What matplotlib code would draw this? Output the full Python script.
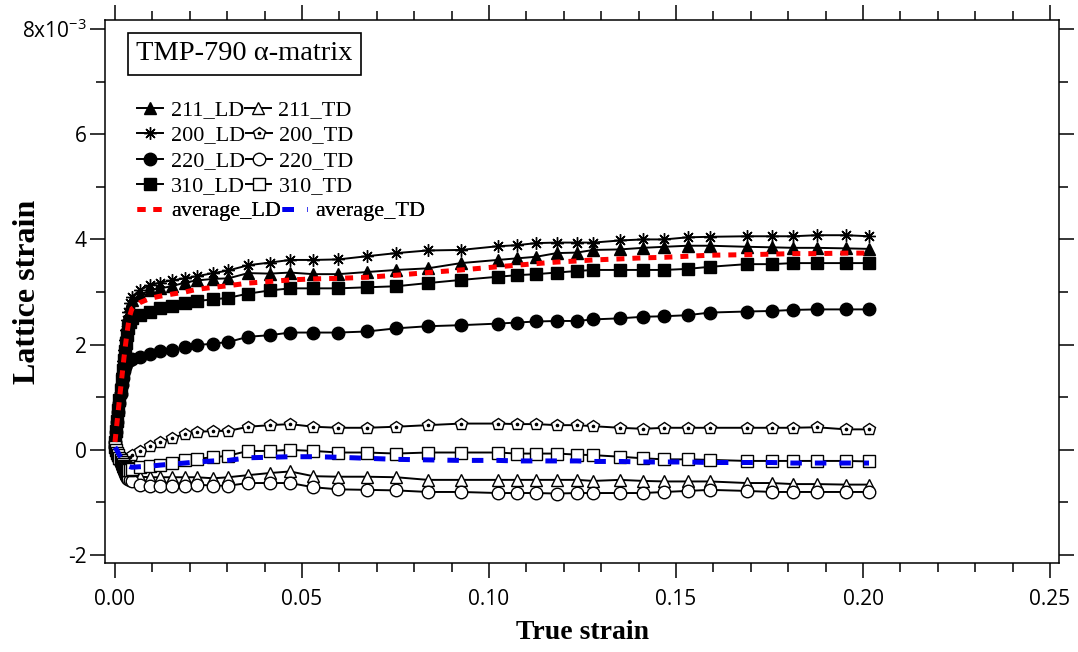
import matplotlib
matplotlib.use('Agg')
import matplotlib.pyplot as plt
from matplotlib.ticker import MultipleLocator, FixedLocator, FixedFormatter

# true strain (shared by all series)
eps = [0.0000, 0.0003, 0.0006, 0.0009, 0.0012, 0.0015, 0.0018, 0.0021, 0.0024, 0.0027,
       0.0030, 0.0033, 0.0036, 0.0040,
       0.0045, 0.0067, 0.0094, 0.0120, 0.0152, 0.0187, 0.0218, 0.0263, 0.0303, 0.0356,
       0.0414, 0.0468, 0.0530, 0.0597, 0.0673, 0.0752,
       0.0836, 0.0925, 0.1023, 0.1074, 0.1126, 0.1181, 0.1235, 0.1279, 0.1350, 0.1412,
       0.1469, 0.1531, 0.1591, 0.1689, 0.1756, 0.1813, 0.1876, 0.1954, 0.2016]

# lattice strain, x10^-3
ld_211 = [0.15, 0.36, 0.57, 0.78, 0.99, 1.20, 1.41, 1.62, 1.83, 2.03, 2.22, 2.40, 2.57, 2.74,
          2.85, 2.94, 3.04, 3.07, 3.11, 3.18, 3.22, 3.25, 3.26, 3.36, 3.35, 3.37, 3.34, 3.34, 3.38, 3.42,
          3.45, 3.55, 3.61, 3.64, 3.67, 3.74, 3.75, 3.80, 3.81, 3.84, 3.86, 3.88, 3.88, 3.86, 3.85,
          3.84, 3.84, 3.83, 3.82]
ld_200 = [0.15, 0.37, 0.59, 0.81, 1.03, 1.25, 1.47, 1.68, 1.89, 2.09, 2.28, 2.46, 2.63, 2.79,
          2.91, 3.04, 3.13, 3.18, 3.22, 3.26, 3.30, 3.36, 3.41, 3.51, 3.56, 3.61, 3.61, 3.62, 3.68, 3.74,
          3.79, 3.80, 3.87, 3.89, 3.93, 3.94, 3.94, 3.94, 3.98, 4.00, 4.00, 4.04, 4.05, 4.06, 4.06,
          4.06, 4.08, 4.08, 4.06]
ld_220 = [0.15, 0.34, 0.53, 0.72, 0.90, 1.07, 1.23, 1.37, 1.49, 1.58, 1.64, 1.68, 1.70, 1.71,
          1.72, 1.77, 1.83, 1.87, 1.90, 1.95, 1.99, 2.02, 2.05, 2.15, 2.18, 2.23, 2.23, 2.23, 2.25, 2.31,
          2.35, 2.37, 2.40, 2.42, 2.44, 2.45, 2.45, 2.48, 2.50, 2.53, 2.54, 2.56, 2.61, 2.63, 2.64,
          2.66, 2.67, 2.67, 2.67]
ld_310 = [0.15, 0.35, 0.55, 0.75, 0.95, 1.14, 1.33, 1.52, 1.70, 1.87, 2.03, 2.18, 2.31, 2.43,
          2.50, 2.56, 2.63, 2.69, 2.73, 2.79, 2.83, 2.86, 2.89, 2.97, 3.03, 3.07, 3.07, 3.07, 3.09, 3.11,
          3.17, 3.23, 3.29, 3.32, 3.34, 3.37, 3.40, 3.42, 3.42, 3.42, 3.42, 3.44, 3.48, 3.53, 3.53,
          3.55, 3.55, 3.55, 3.55]
avg_ld = [0.15, 0.36, 0.56, 0.76, 0.97, 1.16, 1.36, 1.55, 1.75, 1.93, 2.10, 2.26, 2.41, 2.56,
          2.68, 2.80, 2.88, 2.92, 2.96, 3.00, 3.05, 3.09, 3.12, 3.17, 3.20, 3.23, 3.25, 3.26, 3.28, 3.32,
          3.37, 3.42, 3.48, 3.51, 3.54, 3.57, 3.59, 3.61, 3.63, 3.65, 3.66, 3.68, 3.70, 3.71, 3.72,
          3.73, 3.73, 3.74, 3.74]

td_211 = [0.05, 0.00, -0.05, -0.10, -0.15, -0.20, -0.25, -0.30, -0.35, -0.39, -0.43, -0.46, -0.49, -0.51,
          -0.52, -0.51, -0.52, -0.52, -0.52, -0.52, -0.52, -0.54, -0.52, -0.48, -0.44, -0.41, -0.50, -0.51,
          -0.51, -0.52,
          -0.57, -0.57, -0.57, -0.57, -0.57, -0.57, -0.57, -0.59, -0.57, -0.59, -0.60, -0.60, -0.60, -0.63,
          -0.63, -0.65, -0.65, -0.66, -0.66]
td_200 = [0.05, 0.00, -0.05, -0.10, -0.14, -0.18, -0.21, -0.23, -0.24, -0.24, -0.23, -0.21, -0.18, -0.14,
          -0.10, -0.02, 0.07, 0.15, 0.23, 0.30, 0.34, 0.36, 0.36, 0.44, 0.47, 0.49, 0.44, 0.42, 0.42, 0.44,
          0.47, 0.50, 0.50, 0.49, 0.49, 0.47, 0.47, 0.45, 0.42, 0.40, 0.42, 0.42, 0.42, 0.42, 0.42,
          0.42, 0.43, 0.39, 0.39]
td_220 = [0.05, -0.01, -0.07, -0.13, -0.19, -0.25, -0.31, -0.36, -0.41, -0.46, -0.50, -0.53, -0.56, -0.58,
          -0.60, -0.66, -0.68, -0.68, -0.68, -0.68, -0.66, -0.68, -0.68, -0.63, -0.63, -0.63, -0.71, -0.75,
          -0.76, -0.77,
          -0.80, -0.80, -0.82, -0.82, -0.82, -0.83, -0.82, -0.82, -0.82, -0.82, -0.80, -0.78, -0.76, -0.78,
          -0.80, -0.80, -0.80, -0.80, -0.80]
td_310 = [0.05, 0.00, -0.05, -0.10, -0.15, -0.19, -0.23, -0.27, -0.30, -0.33, -0.35, -0.37, -0.38, -0.38,
          -0.37, -0.33, -0.31, -0.29, -0.24, -0.19, -0.17, -0.14, -0.11, -0.02, -0.02, 0.00, -0.02, -0.05,
          -0.05, -0.07,
          -0.05, -0.05, -0.05, -0.07, -0.07, -0.07, -0.09, -0.10, -0.13, -0.16, -0.18, -0.18, -0.19, -0.21,
          -0.21, -0.21, -0.21, -0.21, -0.22]
avg_td = [0.05, 0.02, -0.02, -0.06, -0.10, -0.13, -0.16, -0.19, -0.22, -0.25, -0.27, -0.29, -0.31, -0.32,
          -0.33, -0.32, -0.31, -0.29, -0.27, -0.25, -0.23, -0.21, -0.20, -0.15, -0.14, -0.13, -0.13, -0.14,
          -0.16, -0.18,
          -0.19, -0.20, -0.20, -0.21, -0.21, -0.21, -0.21, -0.22, -0.22, -0.23, -0.23, -0.23, -0.24, -0.24,
          -0.24, -0.25, -0.25, -0.25, -0.25]

y_ticks = [-2, 0, 2, 4, 6, 8]
y_ticklabels = ['-2', '0', '2', '4', '6', '8x10$^{-3}$']
x_ticks = [0.00, 0.05, 0.10, 0.15, 0.20, 0.25]

serif = 'Liberation Serif'
plt.rcParams['mathtext.fontset'] = 'custom'
plt.rcParams['mathtext.rm'] = 'Open Sans'

fig = plt.figure(figsize=(10.78, 6.52), dpi=100)
ax = fig.add_axes([0.0974, 0.1365, 0.8850, 0.8328])

line_kw = dict(color='k', lw=1.4, ms=9, mec='k', mew=1.0)
h211l, = ax.plot(eps, ld_211, marker='^', mfc='k', **line_kw)
h200l, = ax.plot(eps, ld_200, marker=(8, 2, 0), mfc='k', **line_kw)
h220l, = ax.plot(eps, ld_220, marker='o', mfc='k', **line_kw)
h310l, = ax.plot(eps, ld_310, marker='s', mfc='k', **line_kw)
h211t, = ax.plot(eps, td_211, marker='^', mfc='w', **line_kw)
h200t, = ax.plot(eps, td_200, marker='p', mfc='w', **line_kw)
h200d, = ax.plot(eps, td_200, ls='none', marker='o', ms=1.6, mfc='k', mec='k')
h220t, = ax.plot(eps, td_220, marker='o', mfc='w', **line_kw)
h310t, = ax.plot(eps, td_310, marker='s', mfc='w', **line_kw)
havl, = ax.plot(eps, avg_ld, color='#ff0000', lw=3.6, ls=(0, (1.6, 1.6)), zorder=4)
havt, = ax.plot(eps, avg_td, color='#0000ee', lw=3.6, ls=(0, (2.3, 2.6)), zorder=4)

# legend: one row per hkl, LD entry followed directly by the TD entry
rows = [([h211l, h211t], ['211_LD', '211_TD']),
        ([h200l, (h200t, h200d)], ['200_LD', '200_TD']),
        ([h220l, h220t], ['220_LD', '220_TD']),
        ([h310l, h310t], ['310_LD', '310_TD']),
        ([havl, havt], ['average_LD', 'average_TD'])]
row_y = [0.834, 0.788, 0.740, 0.694, 0.648]
for (hs, ls), yy in zip(rows, row_y):
    leg = ax.legend(hs, ls, ncol=2, loc='center left', bbox_to_anchor=(0.034, yy),
                    frameon=False, prop={'family': serif, 'size': 16}, handlelength=1.15,
                    handletextpad=0.35, columnspacing=0.05, borderaxespad=0,
                    borderpad=0, numpoints=1)
    ax.add_artist(leg)

ax.text(0.033, 0.938, 'TMP-790 \u03b1-matrix', transform=ax.transAxes, fontsize=20.5,
        family=serif, ha='left', va='center',
        bbox=dict(boxstyle='square,pad=0.3', fc='w', ec='k', lw=1.2))

ax.set_xlim(-0.00267, 0.2524)
ax.set_ylim(-2.15, 8.17)
ax.xaxis.set_major_locator(FixedLocator(x_ticks))
ax.set_xticklabels(['%.2f' % v for v in x_ticks])
ax.xaxis.set_minor_locator(MultipleLocator(0.01))
ax.yaxis.set_major_locator(FixedLocator(y_ticks))
ax.yaxis.set_major_formatter(FixedFormatter(y_ticklabels))
ax.yaxis.set_minor_locator(MultipleLocator(1))

ax.tick_params(which='both', direction='out', top=True, right=True, width=1.1, colors='k')
ax.tick_params(which='major', length=11)
ax.tick_params(which='minor', length=6.5)
ax.tick_params(axis='x', which='major', pad=8, labelsize=15, labelfontfamily='Open Sans')
ax.tick_params(axis='y', which='major', pad=2, labelsize=15, labelfontfamily='Open Sans')
for s in ax.spines.values():
    s.set_linewidth(1.1)

ax.set_xlabel('True strain', family=serif, fontsize=20, fontweight='bold')
ax.xaxis.set_label_coords(0.5, -0.105)
ax.set_ylabel('Lattice strain', family=serif, fontsize=23, fontweight='bold')
ax.yaxis.set_label_coords(-0.066, 0.5)

fig.savefig('out.png', dpi=100)
